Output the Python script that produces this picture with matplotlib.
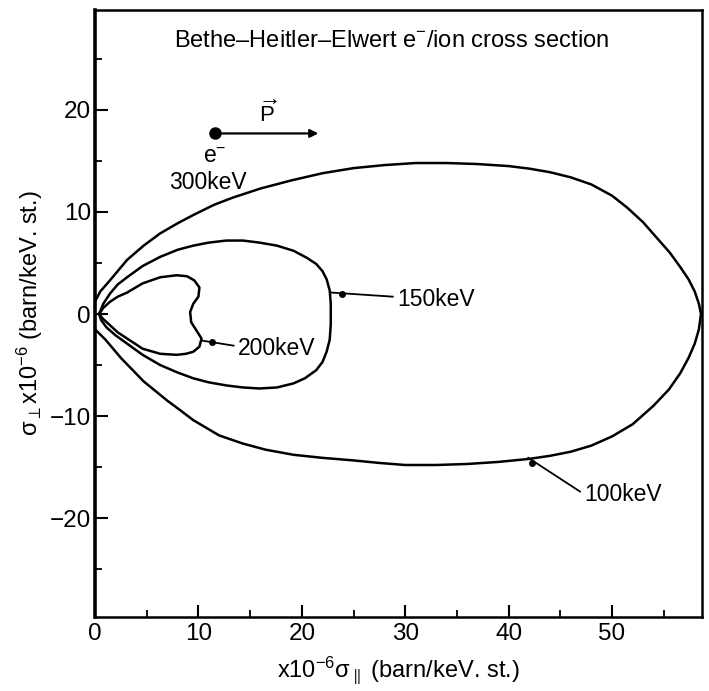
import matplotlib
matplotlib.use("Agg")
import matplotlib.pyplot as plt
from matplotlib.ticker import MultipleLocator

plt.rcParams['font.family'] = ['Liberation Sans', 'DejaVu Sans']
plt.rcParams['mathtext.fontset'] = 'custom'
plt.rcParams['mathtext.rm'] = 'Liberation Sans'
plt.rcParams['mathtext.it'] = 'Liberation Sans'
plt.rcParams['mathtext.bf'] = 'Liberation Sans:bold'

# cross section polar curves, sigma_par (x) vs sigma_perp (y), units 1e-6 barn/keV.st
x_100 = [0.0, 0.5, 1.45, 3.1, 4.7, 6.3, 8.0, 9.5, 11.5, 13.3, 16.0, 19.0, 22.0, 25.0,
         28.0, 31.0, 34.0, 37.0, 40.0, 42.0, 44.0, 46.0, 48.0, 50.0, 51.5, 53.0, 54.3,
         55.6, 56.6, 57.4, 58.0, 58.4, 58.6, 58.4, 58.0, 57.4, 56.6, 55.5, 54.0, 52.0,
         50.0, 48.0, 46.0, 44.0, 42.0, 39.0, 36.0, 33.0, 30.0, 27.5, 25.0, 22.0, 19.2,
         16.5, 14.3, 12.0, 9.5, 8.2, 7.0, 4.7, 2.5, 1.0, 0.0]
y_100 = [1.2, 2.2, 3.3, 5.3, 6.7, 7.9, 8.9, 9.7, 10.7, 11.4, 12.3, 13.1, 13.8, 14.3,
         14.6, 14.8, 14.8, 14.7, 14.5, 14.25, 13.9, 13.4, 12.7, 11.6, 10.4, 9.0, 7.5,
         6.0, 4.6, 3.4, 2.2, 1.0, 0.0, -1.5, -2.9, -4.3, -5.8, -7.4, -9.0, -10.8,
         -12.0, -12.9, -13.5, -13.9, -14.2, -14.5, -14.7, -14.8, -14.8, -14.6, -14.35,
         -14.1, -13.8, -13.3, -12.7, -11.9, -10.4, -9.4, -8.5, -6.6, -4.3, -2.5, -1.5]

x_150 = [0.4, 0.8, 1.45, 2.2, 3.1, 4.6, 6.3, 8.0, 9.5, 11.0, 12.7, 14.3, 15.9, 17.6,
         19.2, 20.5, 21.4, 22.0, 22.4, 22.7, 22.8, 22.8, 22.7, 22.4, 22.0, 21.4, 20.3,
         19.2, 17.6, 15.9, 14.3, 12.7, 11.0, 9.5, 7.9, 6.3, 4.6, 3.1, 2.0, 1.1, 0.6, 0.4]
y_150 = [0.0, 1.0, 2.0, 2.9, 3.6, 4.7, 5.6, 6.3, 6.7, 7.0, 7.2, 7.2, 7.0, 6.7,
         6.2, 5.5, 4.9, 4.2, 3.4, 2.3, 1.0, -1.0, -2.5, -3.7, -4.7, -5.5, -6.3,
         -6.8, -7.2, -7.3, -7.2, -7.0, -6.7, -6.3, -5.7, -5.0, -4.0, -2.9, -2.1, -1.3,
         -0.6, 0.0]

x_200 = [0.4, 0.8, 1.45, 2.2, 3.1, 4.6, 6.3, 7.9, 8.9, 9.6, 10.1, 10.0, 9.5, 9.2,
         9.3, 9.8, 10.3, 10.1, 9.5, 8.8, 7.9, 6.3, 4.6, 3.1, 2.2, 1.45, 0.8, 0.4]
y_200 = [0.0, 0.6, 1.2, 1.7, 2.1, 3.0, 3.6, 3.8, 3.7, 3.3, 2.6, 1.7, 1.0, 0.2,
         -0.8, -1.6, -2.4, -3.2, -3.7, -3.9, -4.0, -3.9, -3.4, -2.4, -1.8, -1.1, -0.5, 0.0]

# callout labels: text, text position, pointer start on curve, dot position
labels = ['100keV', '150keV', '200keV']
label_xy = [(47.3, -17.7), (29.2, 1.4), (13.8, -3.4)]
pointer_from = [(41.9, -14.1), (22.9, 2.1), (10.3, -2.6)]
pointer_dot = [(42.3, -14.6), (23.9, 2.0), (11.3, -2.7)]

electron_xy = (11.6, 17.7)
momentum_tip = (21.6, 17.7)

fig = plt.figure(figsize=(7.09, 6.91), dpi=100)
ax = fig.add_axes([95 / 709, 1 - 617 / 691, (702 - 95) / 709, (617 - 10) / 691])

for xs, ys in [(x_100, y_100), (x_150, y_150), (x_200, y_200)]:
    ax.plot(xs, ys, color='black', lw=1.8, solid_joinstyle='round')

for name, txt, p0, dot in zip(labels, label_xy, pointer_from, pointer_dot):
    ax.plot([p0[0], txt[0] - 0.4], [p0[1], txt[1] + 0.3], color='black', lw=1.3)
    ax.plot(dot[0], dot[1], 'o', color='black', ms=4)
    ax.text(txt[0], txt[1], name, fontsize=16.5, va='center', ha='left')

# electron with momentum vector
ax.plot(electron_xy[0], electron_xy[1], 'o', color='black', ms=8)
ax.annotate('', xy=momentum_tip, xytext=electron_xy,
            arrowprops=dict(arrowstyle='-|>', color='black', lw=1.6,
                            mutation_scale=12, shrinkA=0, shrinkB=0))
ax.text(16.7, 19.7, r'$\overrightarrow{\mathrm{P}}$', fontsize=16, ha='center', va='center')
ax.text(11.6, 15.4, r'e$^{-}$', fontsize=16.5, ha='center', va='center')
ax.text(7.2, 12.9, '300keV', fontsize=16.5, ha='left', va='center')

ax.text(28.7, 26.8, r'Bethe–Heitler–Elwert e$^{-}$/ion cross section',
        fontsize=17, ha='center', va='center')

ax.set_xlim(0, 58.7)
ax.set_ylim(-29.7, 29.8)
ax.xaxis.set_major_locator(MultipleLocator(10))
ax.xaxis.set_minor_locator(MultipleLocator(5))
ax.yaxis.set_major_locator(MultipleLocator(10))
ax.yaxis.set_minor_locator(MultipleLocator(5))
ax.tick_params(which='major', direction='in', length=9, width=1.5, labelsize=17.5)
ax.tick_params(axis='x', which='major', pad=4)
ax.tick_params(axis='y', which='major', pad=3)
ax.tick_params(which='minor', direction='in', length=5, width=1.3)
for s in ax.spines.values():
    s.set_linewidth(1.8)
ax.spines['left'].set_linewidth(2.6)

ax.set_xlabel(r'x10$^{-6}$$\sigma_{\parallel}$ (barn/keV. st.)', fontsize=17, labelpad=7)
ax.set_ylabel(r'$\sigma_{\perp}$x10$^{-6}$ (barn/keV. st.)', fontsize=17, labelpad=3)

fig.savefig('out.png', dpi=100)
